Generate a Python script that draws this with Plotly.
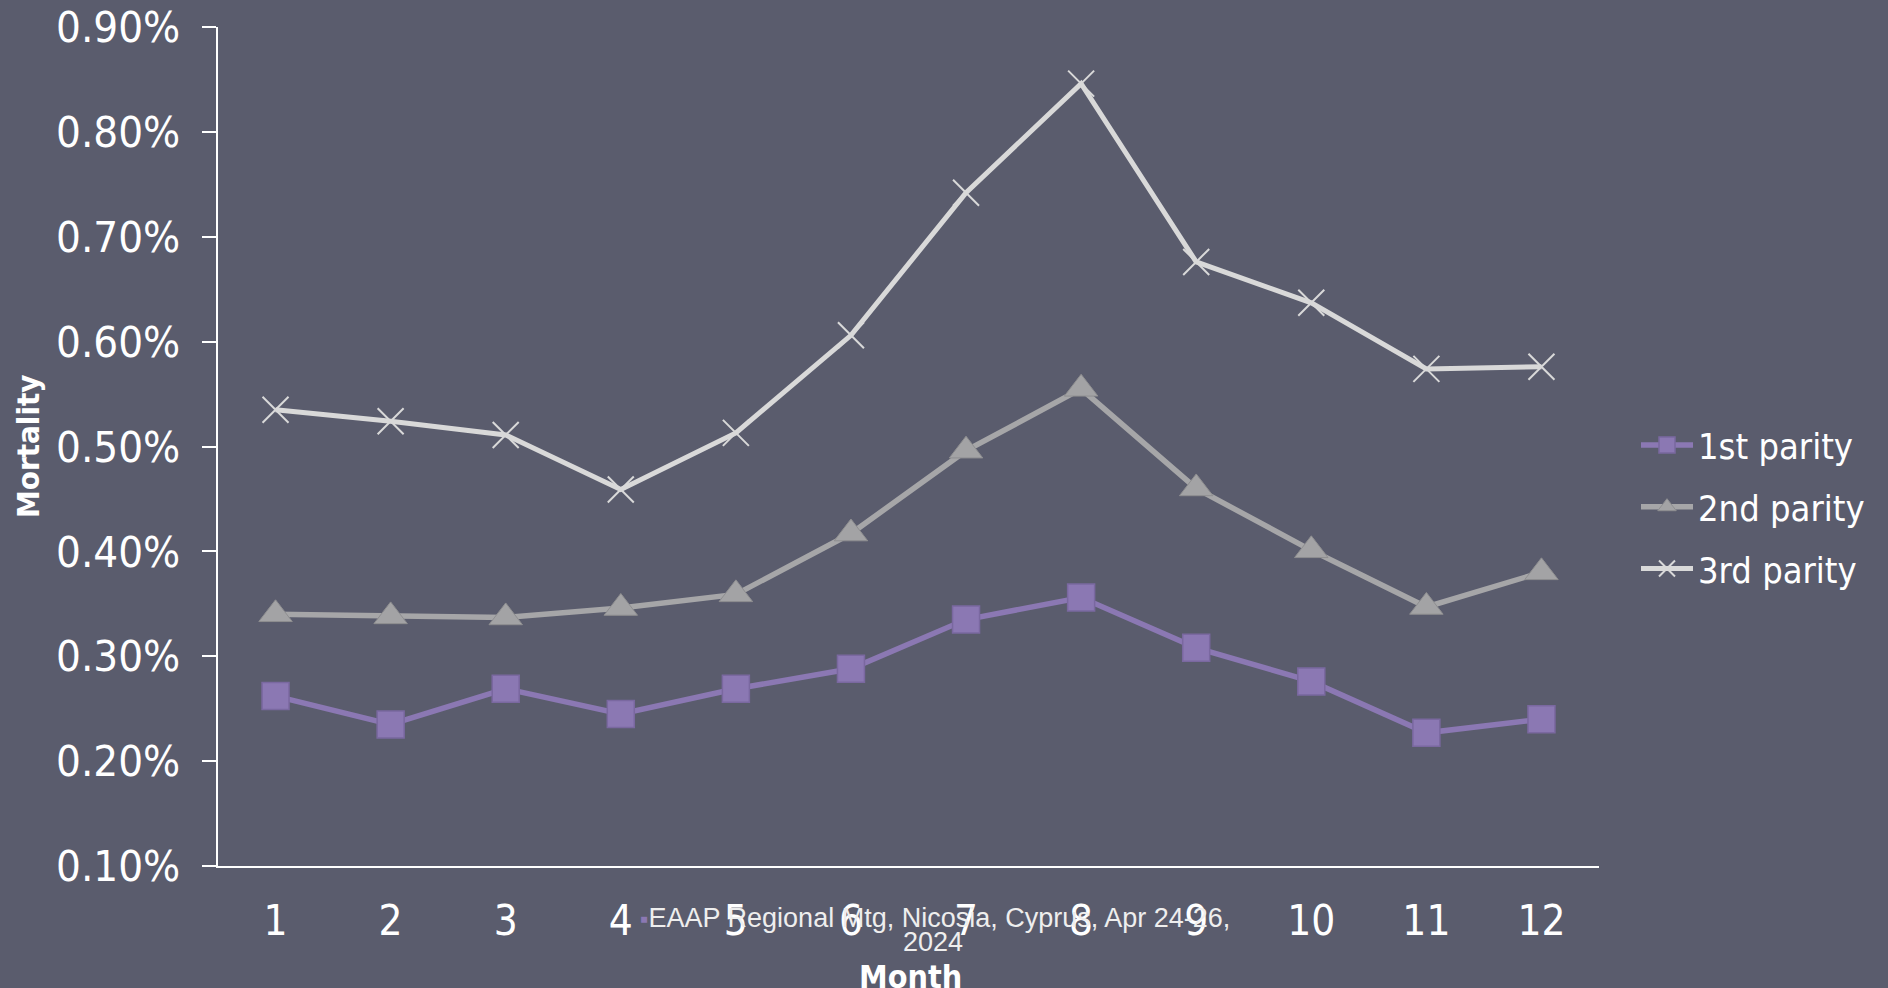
import plotly.graph_objects as go

months = ["1", "2", "3", "4", "5", "6", "7", "8", "9", "10", "11", "12"]
parity1 = [0.262, 0.235, 0.269, 0.245, 0.269, 0.288, 0.335, 0.356, 0.308, 0.276, 0.227, 0.240]
parity2 = [0.340, 0.338, 0.337, 0.346, 0.359, 0.417, 0.496, 0.555, 0.460, 0.401, 0.347, 0.380]
parity3 = [0.535, 0.524, 0.511, 0.459, 0.513, 0.606, 0.742, 0.846, 0.676, 0.637, 0.574, 0.576]
series_names = ["1st parity", "2nd parity", "3rd parity"]

BG = "#5a5c6d"
TICKFONT = "Tahoma, 'DejaVu Sans Condensed', 'DejaVu Sans', sans-serif"
NARROW = "'Liberation Sans', Arial, sans-serif"

# plot area in pixels
L, R, T, B = 218, 1599, 27, 866
PW, PH = R - L, B - T

fig = go.Figure()
fig.add_trace(go.Scatter(
    x=months, y=[v / 100 for v in parity1], name=series_names[0], mode="lines+markers",
    legendgroup="a",
    line=dict(color="#8b78b3", width=5.5),
    marker=dict(symbol="square", size=27, color="#8b78b3", line=dict(color="#7a68a0", width=1.5)),
))
fig.add_trace(go.Scatter(
    x=months, y=[v / 100 for v in parity2], name=series_names[1], mode="lines+markers",
    legendgroup="b",
    line=dict(color="#a6a6a8", width=5.5),
    marker=dict(symbol="triangle-up", size=29, color="#a3a3a5", line=dict(color="#8e8e90", width=1)),
))
fig.add_trace(go.Scatter(
    x=months, y=[v / 100 for v in parity3], name=series_names[2], mode="lines+markers",
    legendgroup="c",
    line=dict(color="#d9d9d9", width=5),
    marker=dict(symbol="x-thin-open", size=26, color="#d9d9d9", line=dict(color="#d9d9d9", width=2)),
))

fig.update_layout(
    width=1888, height=988,
    paper_bgcolor=BG, plot_bgcolor=BG,
    margin=dict(l=L, r=1888 - R, t=T, b=988 - B, autoexpand=False),
    font=dict(family=TICKFONT, color="white"),
    showlegend=True,
    legend=dict(
        x=(1636 - L) / PW, y=(B - 507) / PH, xanchor="left", yanchor="middle",
        font=dict(size=36, color="white", family=TICKFONT),
        bgcolor="rgba(0,0,0,0)", itemwidth=52, tracegroupgap=12,
    ),
    xaxis=dict(
        type="category", range=[-0.5, 11.5], automargin=False,
        showline=True, linecolor="white", linewidth=2,
        showgrid=False, zeroline=False, ticks="",
        tickfont=dict(size=42, color="white", family=TICKFONT),
        ticklabelstandoff=17,
    ),
    yaxis=dict(
        range=[0.001, 0.009], dtick=0.001, tickformat=".2%", automargin=False,
        showline=True, linecolor="white", linewidth=2,
        showgrid=False, zeroline=False,
        ticks="outside", ticklen=14, tickcolor="white", tickwidth=2,
        tickfont=dict(size=43.5, color="white", family=TICKFONT),
        ticklabelstandoff=13,
    ),
)

fig.add_annotation(
    xref="paper", yref="paper", x=(910 - L) / PW, y=(B - 977) / PH,
    xanchor="center", yanchor="middle", showarrow=False,
    text="<b>Month</b>", font=dict(size=32, color="white", family=TICKFONT),
)
fig.add_annotation(
    xref="paper", yref="paper", x=(28 - L) / PW, y=(B - 447) / PH,
    xanchor="center", yanchor="middle", showarrow=False, textangle=-90,
    text="<b>Mortality</b>", font=dict(size=31, color="white", family=TICKFONT),
)
fig.add_annotation(
    xref="paper", yref="paper", x=(935 - L) / PW, y=(B - 918) / PH,
    xanchor="center", yanchor="middle", showarrow=False,
    text="<span style='color:#8b78b3;font-size:24px'>▪</span>EAAP Regional Mtg, Nicosia, Cyprus, Apr 24-26,",
    font=dict(family=NARROW, size=27, color="#eeeeee"),
)
fig.add_annotation(
    xref="paper", yref="paper", x=(933 - L) / PW, y=(B - 942) / PH,
    xanchor="center", yanchor="middle", showarrow=False,
    text="2024",
    font=dict(family=NARROW, size=27, color="#eeeeee"),
)

fig.write_html("out.html")
